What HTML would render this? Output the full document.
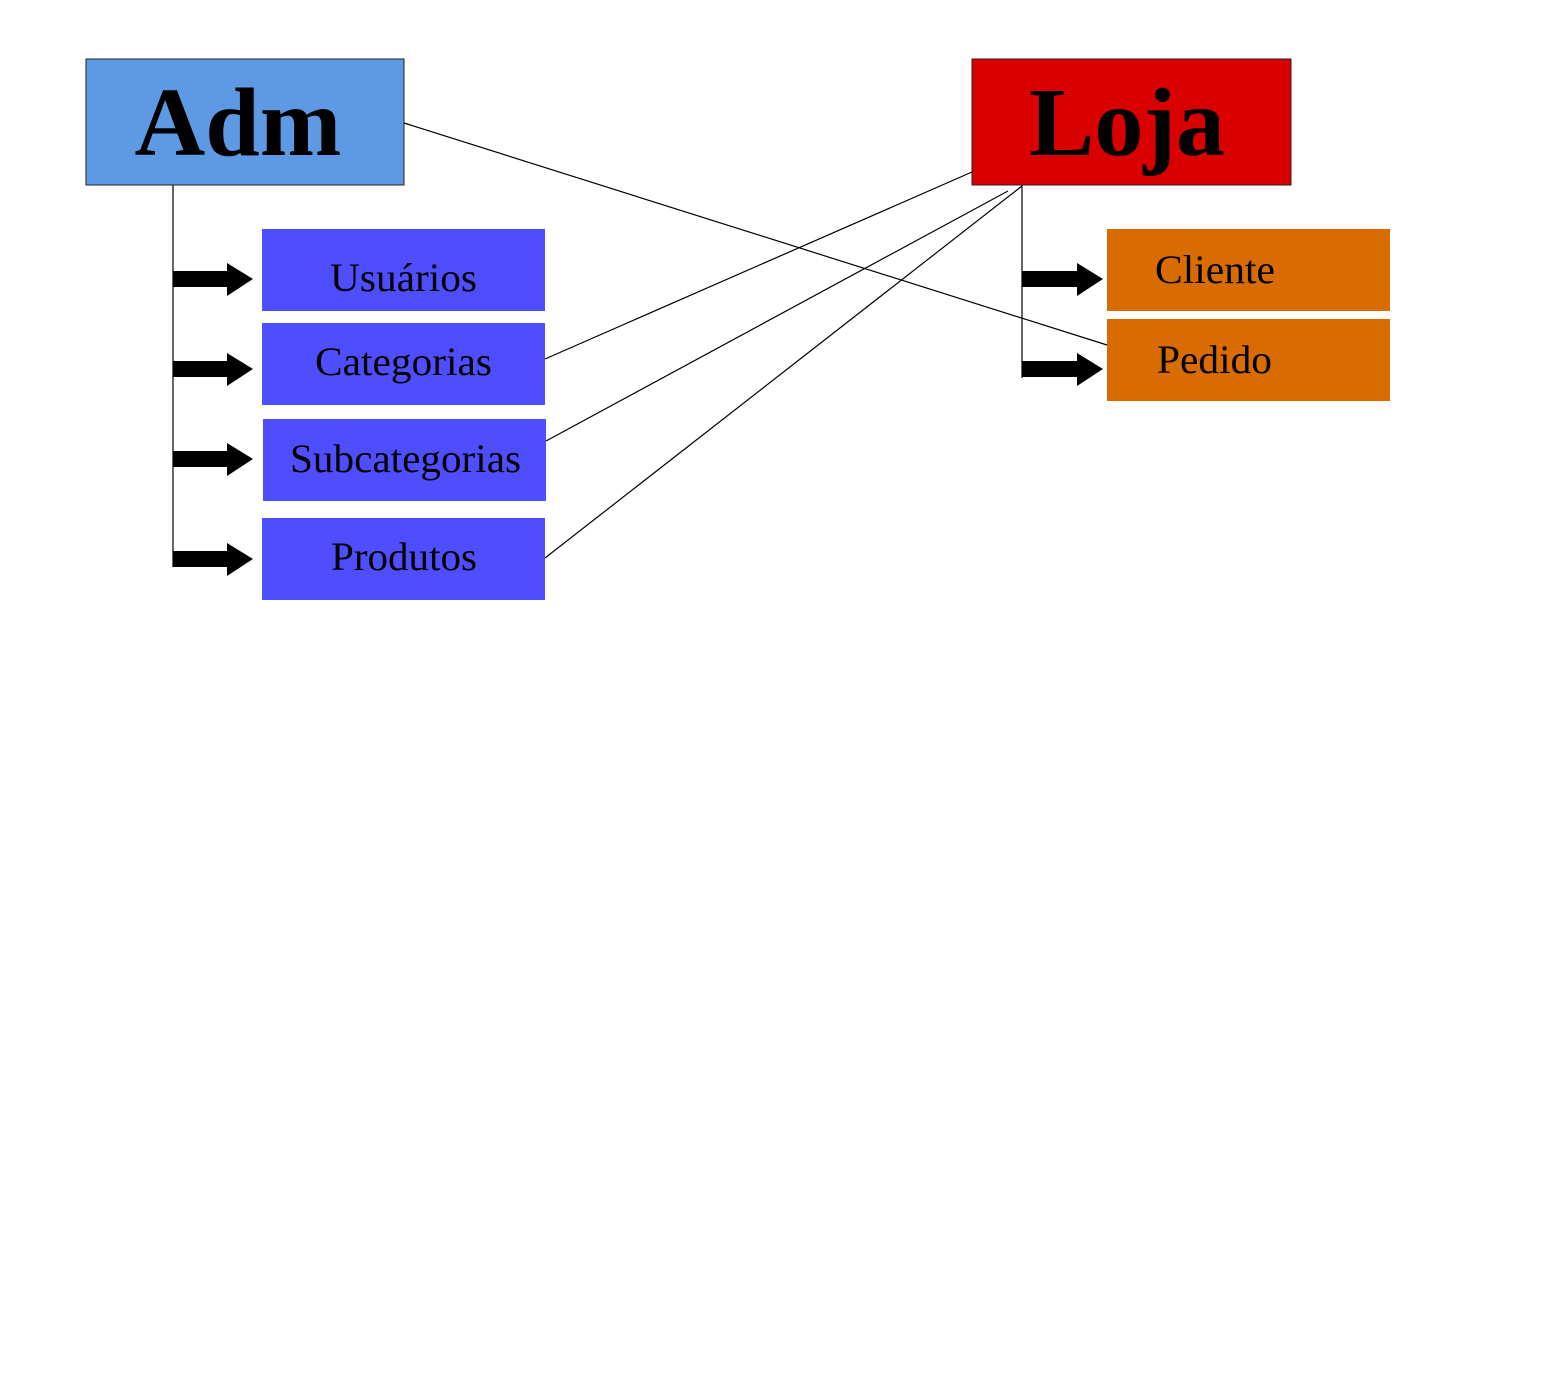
<!DOCTYPE html>
<html><head><meta charset="utf-8"><style>
body{margin:0;background:#fff;}
svg{display:block}
</style></head><body>
<svg width="1544" height="1383" xmlns="http://www.w3.org/2000/svg" font-family="'Liberation Serif', serif">
<rect x="86" y="59" width="318" height="126" fill="#5e99e3" stroke="#222" stroke-width="1"/>
<text x="238" y="155" font-size="98" font-weight="bold" text-anchor="middle">Adm</text>
<rect x="972" y="59" width="319" height="126" fill="#d90000" stroke="#222" stroke-width="1"/>
<text x="1127" y="155" font-size="98" font-weight="bold" text-anchor="middle">Loja</text>

<g fill="#4e4eff">
<rect x="262" y="229" width="283" height="82"/>
<rect x="262" y="323" width="283" height="82"/>
<rect x="263" y="419" width="283" height="82"/>
<rect x="262" y="518" width="283" height="82"/>
</g>
<g fill="#d96c00">
<rect x="1107" y="229" width="283" height="82"/>
<rect x="1107" y="319" width="283" height="82"/>
</g>
<g font-size="40" lengthAdjust="spacingAndGlyphs">
<text x="330" y="291" textLength="147" lengthAdjust="spacingAndGlyphs">Usuários</text>
<text x="315" y="375" textLength="177" lengthAdjust="spacingAndGlyphs">Categorias</text>
<text x="290" y="472" textLength="231" lengthAdjust="spacingAndGlyphs">Subcategorias</text>
<text x="331" y="570" textLength="146" lengthAdjust="spacingAndGlyphs">Produtos</text>
<text x="1155" y="283" textLength="120" lengthAdjust="spacingAndGlyphs">Cliente</text>
<text x="1157" y="373" textLength="115" lengthAdjust="spacingAndGlyphs">Pedido</text>
</g>

<g stroke="#000" stroke-width="1.2" fill="none">
<line x1="173" y1="185" x2="173" y2="567"/>
<line x1="1022" y1="185" x2="1022" y2="378"/>
<line x1="404" y1="123" x2="1107" y2="345"/>
<line x1="545" y1="359" x2="972" y2="172"/>
<line x1="546" y1="441" x2="1008" y2="191"/>
<line x1="545" y1="558" x2="1022" y2="186"/>
</g>
<g fill="#000">
<path d="M173 271H227V263L253 279L227 296V287H173Z"/>
<path d="M173 361H227V353L253 369L227 386V377H173Z"/>
<path d="M173 451H227V443L253 459L227 476V467H173Z"/>
<path d="M173 551H227V543L253 559L227 576V567H173Z"/>
<path d="M1022 271H1077V263L1103 279L1077 296V287H1022Z"/>
<path d="M1022 361H1077V353L1103 369L1077 386V377H1022Z"/>
</g>
</svg>
</body></html>
